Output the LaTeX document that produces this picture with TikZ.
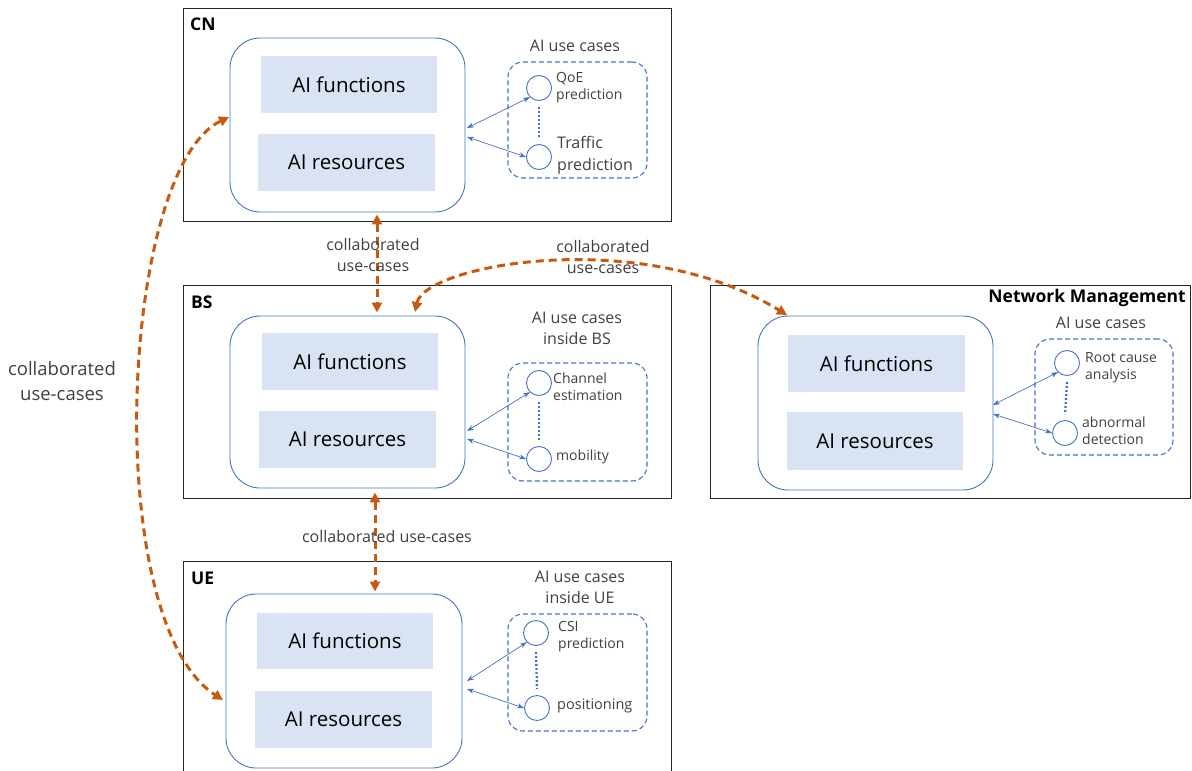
\documentclass[tikz,border=0pt]{standalone}
\usepackage{fontspec}
\setmainfont{Open Sans}
\usetikzlibrary{arrows.meta,calc}
\definecolor{blueC}{HTML}{4472C4}
\definecolor{fillC}{HTML}{DAE3F3}
\definecolor{orangeC}{HTML}{C55A11}
\definecolor{txtC}{HTML}{404040}
\tikzset{
  outer/.style={draw=black!85, line width=0.9pt, minimum width=488pt, minimum height=213pt, inner sep=0pt},
  innerbox/.style={draw=blueC, line width=0.9pt, rounded corners=30pt, minimum width=235pt, minimum height=174pt, inner sep=0pt},
  func/.style={fill=fillC, minimum width=176pt, minimum height=57pt, inner sep=0pt, font=\fontsize{20.5}{24}\selectfont, text=black},
  ucbox/.style={draw=blueC, line width=1.1pt, dash pattern=on 5pt off 3pt, rounded corners=15pt, minimum width=139pt, minimum height=116pt, inner sep=0pt},
  uc/.style={circle, draw=blueC, line width=0.9pt, minimum size=25pt, inner sep=0pt},
  uctext/.style={anchor=west, align=left, text=txtC, font=\fontsize{14}{17}\selectfont, inner sep=0pt},
  lbl/.style={align=center, text=txtC, font=\fontsize{16}{21}\selectfont, inner sep=0pt},
  title/.style={font=\bfseries\fontsize{17.5}{20}\selectfont, text=black, inner sep=0pt},
  barr/.style={draw=blueC, line width=0.7pt, {Stealth[length=7pt,width=5pt]}-{Stealth[length=7pt,width=5pt]}},
  dots/.style={draw=blueC, line width=2.3pt, dash pattern=on 2pt off 2pt},
  oarr/.style={draw=orangeC, line width=3pt, dash pattern=on 8pt off 5pt, {Triangle[length=10pt,width=10pt]}-{Triangle[length=10pt,width=10pt]}}
}
\begin{document}
\begin{tikzpicture}[x=1pt,y=-1pt]
\useasboundingbox (0,0) rectangle (1192,771);
\clip (0,0) rectangle (1192,771);

% ---------- CN ----------
\node[outer] (cn) at (427,114.5) {};
\node[title, anchor=west] (cnt) at (190,24) {CN};
\node[innerbox] (cni) at (347.5,125) {};
\node[func] (cnf) at (349,84.5) {AI functions};
\node[func, minimum width=177pt] (cnr) at (346.5,162.5) {AI resources};
\node[lbl] (cnl) at (575,46) {AI use cases};
\node[ucbox] (cnu) at (577.5,120) {};
\node[uc] (cn1) at (539,88) {};
\node[uc] (cn1b) at (539,157) {};
\node[uctext] (cn1t) at (556,88) {QoE\\prediction};
\node[uctext, font=\fontsize{16}{22}\selectfont] (cn2t) at (557,155) {Traffic\\prediction};
\draw[dots] ($(cn1.south)+(0,6)$) -- ($(cn1b.north)+(0,-6)$);
\coordinate (cna) at (467,128);
\coordinate (cnb) at (467,137);
\draw[barr] (cna) -- (cn1.south west);
\draw[barr] (cnb) -- (cn1b.west);

% ---------- BS ----------
\node[outer] (bs) at (427,391.5) {};
\node[title, anchor=west] (bst) at (191,302) {BS};
\node[innerbox, minimum height=172pt] (bsi) at (347.5,402) {};
\node[func] (bsf) at (350,361.5) {AI functions};
\node[func, minimum width=177pt] (bsr) at (347.5,439.5) {AI resources};
\node[lbl] (bsl) at (577,328) {AI use cases\\inside BS};
\node[ucbox, minimum height=118pt] (bsu) at (577.5,422) {};
\node[uc] (bs1) at (539,383) {};
\node[uc] (bs2) at (539,459) {};
\node[uctext] (bs1t) at (553,387) {Channel\\estimation};
\node[uctext] (bs2t) at (556,457) {mobility};
\draw[dots] ($(bs1.south)+(0,6)$) -- ($(bs2.north)+(0,-6)$);
\coordinate (bsa) at (467,431);
\coordinate (bsb) at (467,439);
\draw[barr] (bsa) -- (bs1.south west);
\draw[barr] (bsb) -- (bs2.west);

% ---------- UE ----------
\node[outer, minimum height=219pt] (ue) at (427,670.5) {};
\node[title, anchor=west] (uet) at (191,578) {UE};
\node[innerbox, minimum width=236pt] (uei) at (344,681) {};
\node[func, minimum height=56pt] (uef) at (345,641) {AI functions};
\node[func, minimum width=177pt] (uer) at (343.5,719.5) {AI resources};
\node[lbl] (uel) at (580,587) {AI use cases\\inside UE};
\node[ucbox, minimum height=117pt] (ueu) at (577.5,672.5) {};
\node[uc] (ue1) at (536,633) {};
\node[uc] (ue2) at (537,708) {};
\node[uctext] (ue1t) at (558,637) {CSI\\prediction};
\node[uctext, font=\fontsize{14.5}{17}\selectfont] (ue2t) at (557,706) {positioning};
\draw[dots] ($(ue1.south)+(0,6)$) -- ($(ue2.north)+(0,-6)$);
\coordinate (uea) at (467,681);
\coordinate (ueb) at (467,689);
\draw[barr] (uea) -- (ue1.south west);
\draw[barr] (ueb) -- (ue2.west);

% ---------- Network Management ----------
\node[outer, minimum width=480pt] (nm) at (950,391.5) {};
\node[title, anchor=east] (nmt) at (1186,298) {Network Management};
\node[innerbox] (nmi) at (875.5,403) {};
\node[func, minimum width=177pt] (nmf) at (876.5,363.5) {AI functions};
\node[func, minimum height=58pt] (nmr) at (875,441) {AI resources};
\node[lbl] (nml) at (1101,323) {AI use cases};
\node[ucbox, minimum width=138pt] (nmu) at (1104,397) {};
\node[uc] (nm1) at (1067,363) {};
\node[uc] (nm2) at (1065,433) {};
\node[uctext] (nm1t) at (1085,368) {Root cause\\analysis};
\node[uctext] (nm2t) at (1082,431) {abnormal\\detection};
\draw[dots] ($(nm1.south)+(0,6)$) -- ($(nm2.north)+(0,-6)$);
\coordinate (nma) at (993,405);
\coordinate (nmb) at (993,414);
\draw[barr] (nma) -- (nm1.south west);
\draw[barr] (nmb) -- (nm2.west);

% ---------- collaboration arrows ----------
\draw[oarr] ($(cni.south)+(29.5,2)$) -- ($(bsi.north)+(29.5,-3)$);
\node[lbl] (c1) at (373,255) {collaborated\\use-cases};

\draw[oarr] ($(bsi.south)+(27.5,4)$) -- ($(uei.north)+(31,-2)$);
\node[lbl] (c2) at (387,536) {collaborated use-cases};

\coordinate (bsn) at (415,312);
\coordinate (nmn) at (787,315);
\draw[oarr] (bsn) .. controls (425,265) and (640,225) .. (nmn);
\node[lbl] (c3) at (603,257) {collaborated\\use-cases};

\coordinate (cnw) at (229,117);
\coordinate (uew) at (223,700);
\draw[oarr] (cnw) .. controls (120,170) and (100,620) .. (uew);
\node[lbl, font=\fontsize{18.5}{25}\selectfont] (c4) at (62,381) {collaborated\\use-cases};
\end{tikzpicture}
\end{document}
